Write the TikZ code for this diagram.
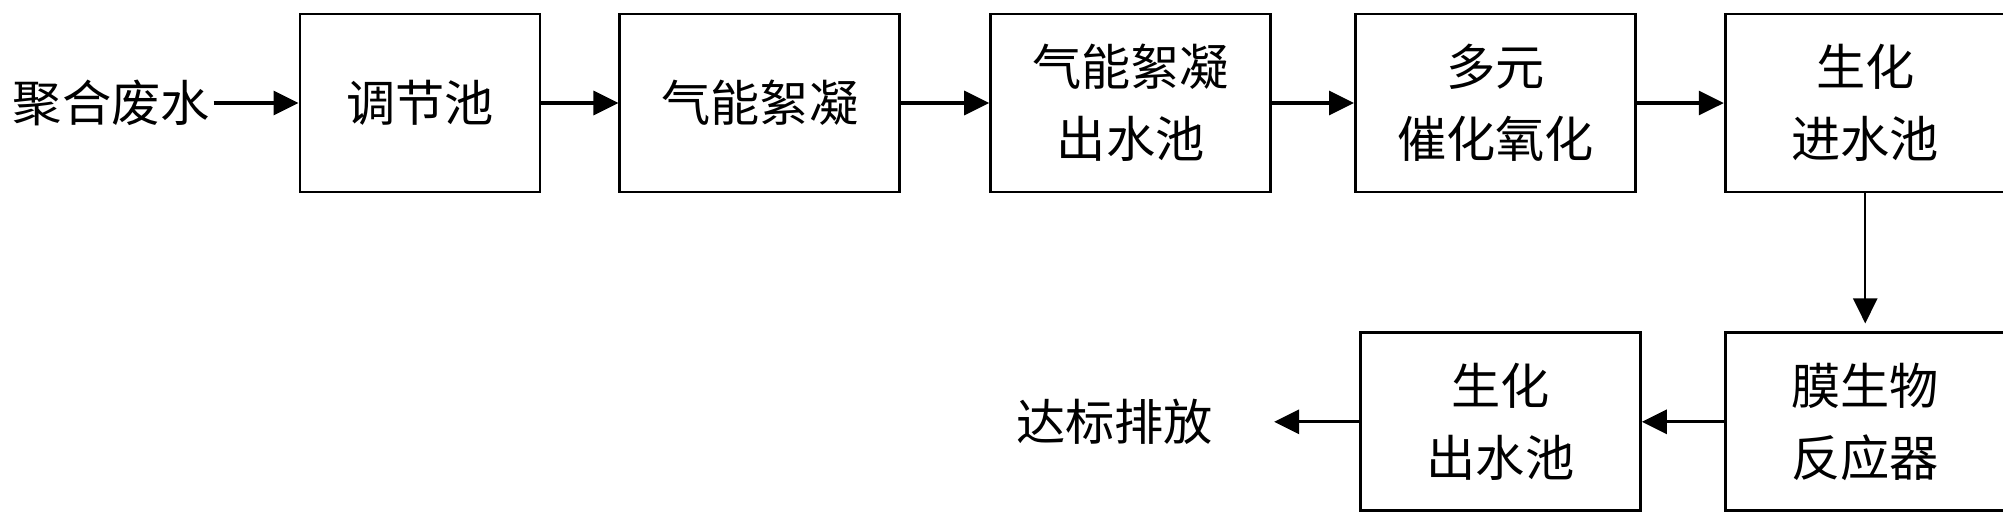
\documentclass[tikz,border=0pt]{standalone}
\usepackage{fontspec}
\newfontfamily\cjk{Noto Sans CJK SC}
\usepackage{tikz}
\usetikzlibrary{shapes,arrows,arrows.meta,positioning}

\begin{document}
\begin{tikzpicture}[node distance=1.65cm, auto,
    box/.style={rectangle, draw, line width=1.6pt, minimum width=5.6cm, minimum height=3.56cm, align=center, font=\cjk\fontsize{28pt}{41pt}\selectfont},
    txt/.style={inner sep=2pt, font=\cjk\fontsize{28pt}{41pt}\selectfont},
    pipe/.style={-{Triangle[length=5mm,width=4.8mm]}, line width=1.8pt}]
    \useasboundingbox (-8.4,-8.32) rectangle (31.66,2.06);
    % Nodes
    \node [box, minimum width=4.8cm] (tiaojie) {调节池};
    \node [txt, left=1.7cm of tiaojie] (feishui) {聚合废水};
    \node [box, right=1.54cm of tiaojie] (qineng) {气能絮凝};
    \node [box, right=1.76cm of qineng] (qnchu) {气能絮凝\\出水池};
    \node [box, right=1.64cm of qnchu] (cuihua) {多元\\催化氧化};
    \node [box, right=1.74cm of cuihua] (jinshui) {生化\\进水池};
    \node [box, below=2.76cm of jinshui] (mbr) {膜生物\\反应器};
    \node [box, left=1.64cm of mbr] (shchu) {生化\\出水池};
    \node [txt, left=2.84cm of shchu] (paifang) {达标排放};

    % Path
    \draw [pipe] (feishui) -- (tiaojie);
    \draw [pipe] (tiaojie) -- (qineng);
    \draw [pipe] (qineng) -- (qnchu);
    \draw [pipe] (qnchu) -- (cuihua);
    \draw [pipe] (cuihua) -- (jinshui);
    \draw [pipe, line width=1.4pt, shorten >=1.6mm] (jinshui) -- (mbr);
    \draw [pipe] (mbr) -- (shchu);
    \draw [pipe, shorten >=11.4mm] (shchu) -- (paifang);
\end{tikzpicture}
\end{document}
